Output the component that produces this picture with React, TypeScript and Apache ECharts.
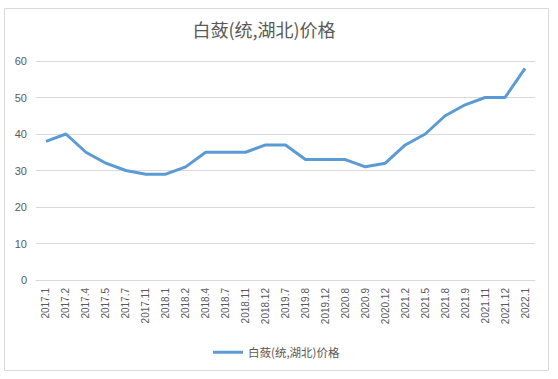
import React, { useEffect, useRef } from "react";
import * as echarts from "echarts";

const categories = [
  "2017.1", "2017.2", "2017.4", "2017.5", "2017.7", "2017.11", "2018.1", "2018.2",
  "2018.4", "2018.7", "2018.11", "2018.12", "2019.7", "2019.8", "2019.12", "2020.8",
  "2020.9", "2020.12", "2021.2", "2021.5", "2021.8", "2021.9", "2021.11", "2021.12", "2022.1",
];
const prices = [38, 40, 35, 32, 30, 29, 29, 31, 35, 35, 35, 37, 37, 33, 33, 33, 31, 32, 37, 40, 45, 48, 50, 50, 58];
const seriesName = "白蔹(统,湖北)价格";
const titleText = "白蔹(统,湖北)价格";

export default function App() {
  const ref = useRef<HTMLDivElement>(null);
  useEffect(() => {
    document.body.style.margin = "0";
    const chart = echarts.init(ref.current!, null, { renderer: "svg" });
    const font = "'Noto Sans CJK SC', 'Liberation Sans', sans-serif";
    chart.setOption({
      animation: false,
      backgroundColor: "#ffffff",
      graphic: [
        {
          type: "rect",
          shape: { x: 4.5, y: 8.5, width: 544, height: 362 },
          style: { fill: "none", stroke: "#d9d9d9", lineWidth: 1 },
          silent: true,
        },
      ],
      title: {
        text: titleText,
        left: 259,
        textAlign: "center",
        top: 15,
        textStyle: { fontSize: 18, fontWeight: "normal", color: "#595959", fontFamily: font },
      },
      legend: {
        data: [seriesName],
        bottom: 16,
        left: 208,
        itemWidth: 30,
        itemHeight: 3,
        itemGap: 5,
        icon: "rect",
        textStyle: { fontSize: 11.5, color: "#595959", fontFamily: font },
      },
      grid: { left: 36, right: 23, top: 61, bottom: 99, containLabel: false },
      xAxis: {
        type: "category",
        data: categories,
        boundaryGap: true,
        axisLine: { lineStyle: { color: "#d9d9d9" } },
        axisTick: { show: false },
        axisLabel: {
          rotate: 90,
          interval: 0,
          fontSize: 10,
          color: "#595959",
          fontFamily: "'Liberation Sans', sans-serif",
          margin: 8,
        },
      },
      yAxis: {
        type: "value",
        min: 0,
        max: 60,
        interval: 10,
        axisLine: { show: false },
        axisTick: { show: false },
        splitLine: { lineStyle: { color: "#d9d9d9" } },
        axisLabel: { fontSize: 11, color: "#595959", margin: 9, fontFamily: "'Liberation Sans', sans-serif" },
      },
      series: [
        {
          name: seriesName,
          type: "line",
          data: prices,
          symbol: "none",
          lineStyle: { color: "#5B9BD5", width: 3 },
          itemStyle: { color: "#5B9BD5" },
        },
      ],
    });
    return () => chart.dispose();
  }, []);
  return <div ref={ref} style={{ width: 558, height: 379 }} />;
}
